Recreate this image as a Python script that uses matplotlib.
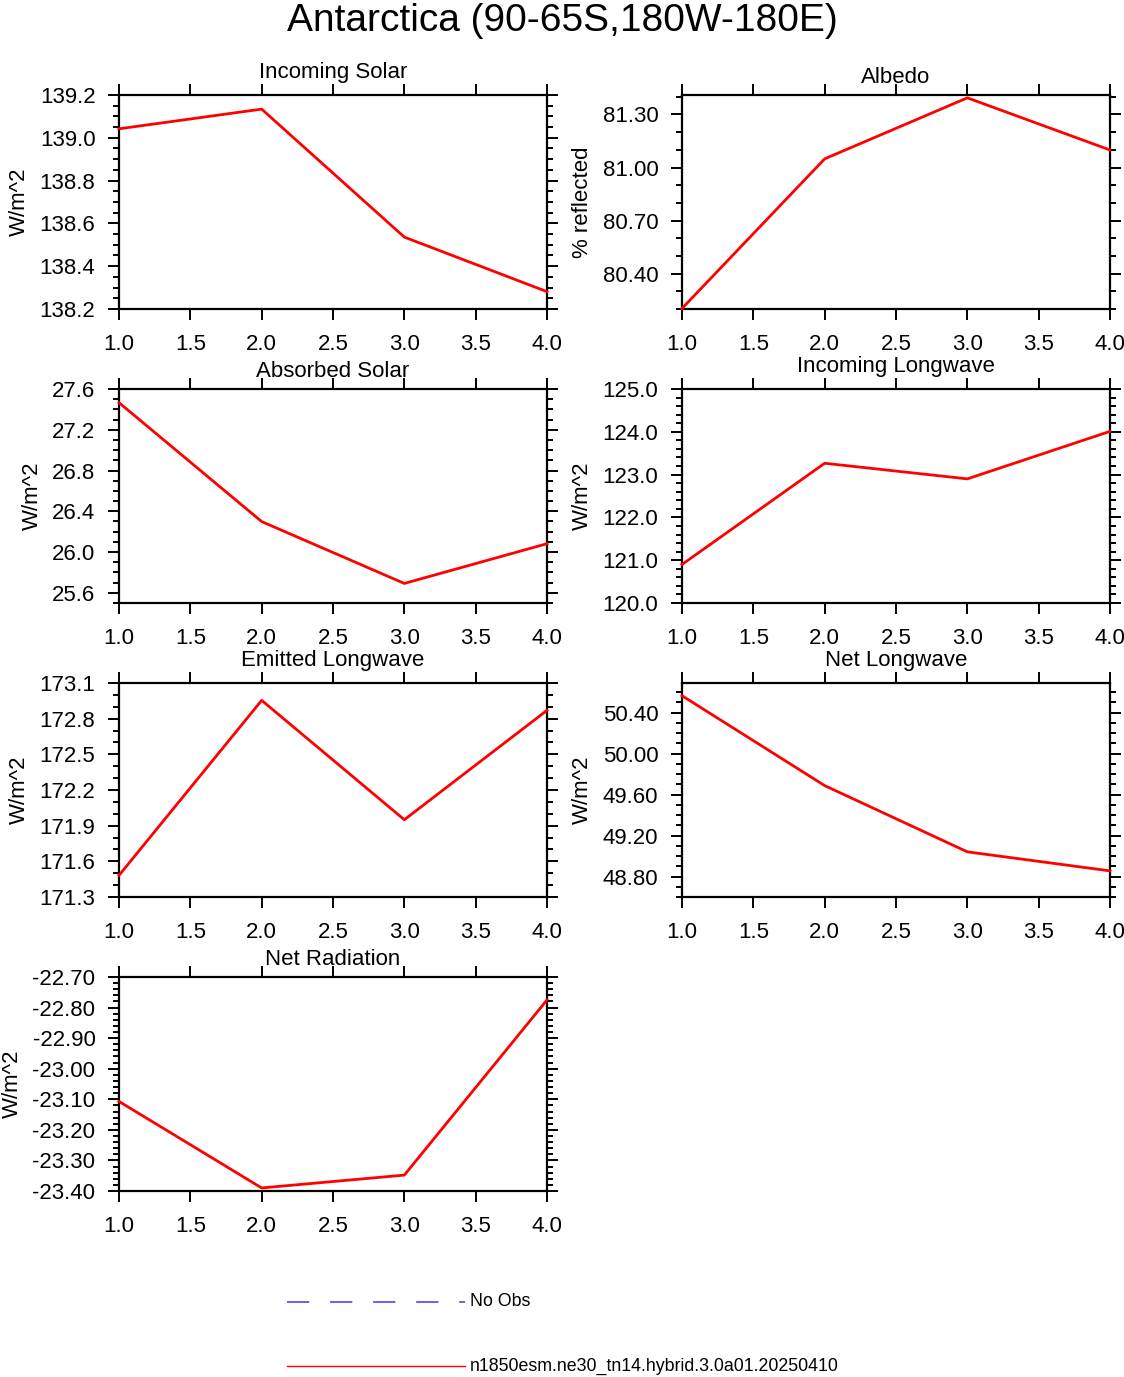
import numpy as np
import matplotlib
matplotlib.use("Agg")
import matplotlib.pyplot as plt
from matplotlib.ticker import FixedLocator, MultipleLocator, FormatStrFormatter
from matplotlib.transforms import offset_copy
from matplotlib.lines import Line2D

plt.rcParams['font.family'] = ['Liberation Sans', 'DejaVu Sans']
plt.rcParams['lines.scale_dashes'] = False

# x positions (1..4) shared by every panel
x_vals = [1, 2, 3, 4]
x_ticks = [1.0, 1.5, 2.0, 2.5, 3.0, 3.5, 4.0]

incoming_solar = [139.042, 139.134, 138.536, 138.281]
albedo = [80.203, 81.049, 81.394, 81.099]
absorbed_solar = [27.466, 26.299, 25.692, 26.082]
incoming_lw = [120.900, 123.265, 122.900, 124.010]
emitted_lw = [171.482, 172.954, 171.950, 172.870]
net_lw = [50.566, 49.688, 49.041, 48.855]
net_rad = [-23.107, -23.390, -23.348, -22.775]

titles = ['Incoming Solar', 'Albedo', 'Absorbed Solar', 'Incoming Longwave',
          'Emitted Longwave', 'Net Longwave', 'Net Radiation']
units = ['W/m^2', '% reflected', 'W/m^2', 'W/m^2', 'W/m^2', 'W/m^2', 'W/m^2']

yticks_incoming_solar = [138.2, 138.4, 138.6, 138.8, 139.0, 139.2]
yticks_albedo = [80.40, 80.70, 81.00, 81.30]
yticks_absorbed_solar = [25.6, 26.0, 26.4, 26.8, 27.2, 27.6]
yticks_incoming_lw = [120.0, 121.0, 122.0, 123.0, 124.0, 125.0]
yticks_emitted_lw = [171.3, 171.6, 171.9, 172.2, 172.5, 172.8, 173.1]
yticks_net_lw = [48.80, 49.20, 49.60, 50.00, 50.40]
yticks_net_rad = [-23.40, -23.30, -23.20, -23.10, -23.00, -22.90, -22.80, -22.70]

legend_labels = ['No Obs', 'n1850esm.ne30_tn14.hybrid.3.0a01.20250410']

series = [incoming_solar, albedo, absorbed_solar, incoming_lw, emitted_lw, net_lw, net_rad]
yticks = [yticks_incoming_solar, yticks_albedo, yticks_absorbed_solar, yticks_incoming_lw,
          yticks_emitted_lw, yticks_net_lw, yticks_net_rad]
ylims = [(138.2, 139.2), (80.20, 81.41), (25.5, 27.6), (120.0, 125.0),
         (171.3, 173.1), (48.60, 50.69), (-23.40, -22.70)]
minor_steps = [0.05, 0.1, 0.1, 0.2, 0.1, 0.1, 0.02]
yfmts = ['%.1f', '%.2f', '%.1f', '%.1f', '%.1f', '%.2f', '%.2f']

W, H = 1124, 1377
fig = plt.figure(figsize=(W / 100, H / 100), dpi=100)

fig.text(0.5, 1 - 31 / H, 'Antarctica (90-65S,180W-180E)', ha='center', va='baseline',
         fontsize=28)

col_left = [119, 682]
row_top = [95, 389, 683, 977]
ax_w, ax_h = 428, 214

for i, vals in enumerate(series):
    r, c = divmod(i, 2)
    left = col_left[c] / W
    bottom = 1 - (row_top[r] + ax_h) / H
    ax = fig.add_axes([left, bottom, ax_w / W, ax_h / H])

    ax.plot(x_vals, vals, color='red', lw=2.0, clip_on=False, zorder=3)

    ax.set_xlim(1, 4)
    ax.set_ylim(*ylims[i])
    ax.xaxis.set_major_locator(FixedLocator(x_ticks))
    ax.xaxis.set_major_formatter(FormatStrFormatter('%.1f'))
    ax.yaxis.set_major_locator(FixedLocator(yticks[i]))
    ax.yaxis.set_minor_locator(MultipleLocator(minor_steps[i]))
    ax.yaxis.set_major_formatter(FormatStrFormatter(yfmts[i]))

    ax.tick_params(which='both', direction='out', top=True, right=True,
                   width=1.4, labelsize=16, pad=9)
    ax.tick_params(axis='x', pad=10)
    ax.tick_params(which='major', length=8)
    ax.tick_params(which='minor', length=4)
    for sp in ax.spines.values():
        sp.set_linewidth(1.6)

    ax.set_ylabel(units[i], fontsize=16, labelpad=7)

    # titles with descenders sit a bit higher, as in the original
    pad = 12 if any(ch in titles[i] for ch in 'gjpqy') else 8.5
    tr = offset_copy(ax.transAxes, fig=fig, y=pad, units='points')
    ax.text(0.5, 1.0, titles[i], transform=tr, ha='center', va='baseline', fontsize=16)

# legend drawn at the bottom of the page
leg_x0, leg_x1 = 287 / W, 465 / W
leg_y = [1 - 1302 / H, 1 - 1366 / H]
fig.add_artist(Line2D([leg_x0, leg_x1], [leg_y[0], leg_y[0]], transform=fig.transFigure,
                      color='#4646ff', lw=1.2, linestyle=(0, (16, 15))))
fig.add_artist(Line2D([leg_x0, leg_x1], [leg_y[1], leg_y[1]], transform=fig.transFigure,
                      color='red', lw=1.0))
for y, lab in zip(leg_y, legend_labels):
    fig.text(470 / W, y, lab, ha='left', va='center', fontsize=12.8)

fig.savefig('out.png', dpi=100)
